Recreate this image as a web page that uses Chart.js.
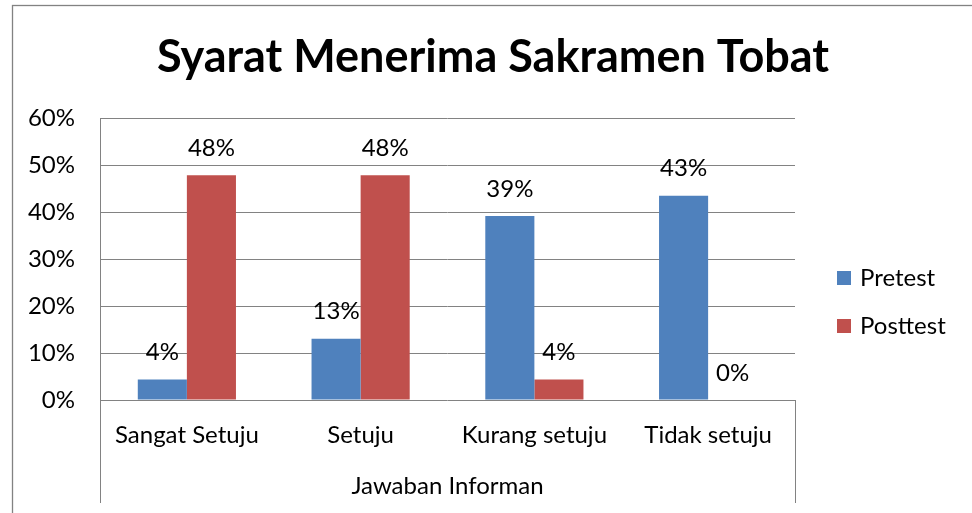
<!DOCTYPE html>
<html>
<head>
<meta charset="utf-8">
<script src="https://cdn.jsdelivr.net/npm/chart.js@4.4.0/dist/chart.umd.min.js"></script>
<style>
html, body { margin: 0; padding: 0; background: #fff; }
canvas { display: block; }
</style>
</head>
<body>
<canvas id="chart" width="972" height="513"></canvas>
<script>
const categories = ['Sangat Setuju', 'Setuju', 'Kurang setuju', 'Tidak setuju'];
const pretest = [4.35, 13.04, 39.13, 43.48];
const posttest = [47.83, 47.83, 4.35, 0];
const yTicks = [0, 10, 20, 30, 40, 50, 60];

const FONT = 'Lato, sans-serif';
const LINE = '#828282';

// angka di atas batang
const valueLabels = {
    id: 'valueLabels',
    afterDatasetsDraw(chart) {
        const ctx = chart.ctx;
        ctx.save();
        ctx.font = '24px ' + FONT;
        ctx.fillStyle = '#000';
        ctx.textAlign = 'center';
        ctx.textBaseline = 'middle';
        chart.data.datasets.forEach((ds, i) => {
            chart.getDatasetMeta(i).data.forEach((bar, j) => {
                ctx.fillText(Math.round(ds.data[j]) + '%', bar.x, bar.y - 27);
            });
        });
        ctx.restore();
    }
};

// judul ditengah seluruh bingkai, bukan cuma area plot
const centerTitle = {
    id: 'centerTitle',
    afterLayout(chart) {
        const t = chart.titleBlock;
        if (!t) return;
        t.left = 14;
        t.right = 972;
        t.width = 958;
    }
};

// bingkai luar, garis sumbu bawah, dan legenda
const frame = {
    id: 'frame',
    afterDraw(chart) {
        const ctx = chart.ctx;
        const a = chart.chartArea;
        const bottom = 503;
        ctx.save();
        ctx.strokeStyle = LINE;
        ctx.lineWidth = 1.3;
        ctx.strokeRect(12.5, 5.5, 970, 520);

        ctx.lineWidth = 1;
        ctx.beginPath();
        ctx.moveTo(Math.round(a.left) + 0.5, a.top);
        ctx.lineTo(Math.round(a.left) + 0.5, bottom);
        ctx.moveTo(Math.round(a.right) + 0.5, a.bottom);
        ctx.lineTo(Math.round(a.right) + 0.5, bottom);
        ctx.stroke();

        ctx.font = '24px ' + FONT;
        ctx.textBaseline = 'middle';
        ctx.textAlign = 'left';
        const rows = [278, 326];
        chart.data.datasets.forEach((ds, i) => {
            const y = rows[i];
            ctx.fillStyle = ds.backgroundColor;
            ctx.fillRect(837, y - 7, 14, 14);
            ctx.fillStyle = '#000';
            ctx.fillText(ds.label, 860, y);
        });
        ctx.restore();
    }
};

new Chart(document.getElementById('chart'), {
    type: 'bar',
    data: {
        labels: categories,
        datasets: [
            { label: 'Pretest', data: pretest, backgroundColor: '#4F81BD' },
            { label: 'Posttest', data: posttest, backgroundColor: '#C0504D' }
        ]
    },
    plugins: [valueLabels, centerTitle, frame],
    options: {
        responsive: false,
        animation: false,
        devicePixelRatio: 1,
        layout: { padding: { left: 0, right: 177, top: 0, bottom: 0 } },
        datasets: {
            bar: { categoryPercentage: 0.565, barPercentage: 1 }
        },
        plugins: {
            legend: { display: false },
            tooltip: { enabled: false },
            title: {
                display: true,
                text: 'Syarat Menerima Sakramen Tobat',
                color: '#000',
                font: { family: FONT, size: 45, weight: 'bold', lineHeight: 1.2 },
                padding: { top: 30, bottom: 34 }
            }
        },
        scales: {
            x: {
                grid: { display: false, drawTicks: false },
                border: { display: false },
                ticks: {
                    color: '#000',
                    font: { family: FONT, size: 24 },
                    padding: 21,
                    maxRotation: 0
                },
                title: {
                    display: true,
                    text: 'Jawaban Informan',
                    color: '#000',
                    font: { family: FONT, size: 24, lineHeight: 1.2 },
                    padding: { top: 0, bottom: 12 }
                },
                afterFit(scale) { scale.height = 113; }
            },
            y: {
                min: 0,
                max: 60,
                grid: { color: LINE, lineWidth: 1, drawTicks: false },
                border: { display: false },
                afterBuildTicks(scale) {
                    scale.ticks = yTicks.map(v => ({ value: v }));
                },
                ticks: {
                    color: '#000',
                    font: { family: FONT, size: 24 },
                    padding: 25,
                    callback: v => v + '%'
                },
                afterFit(scale) { scale.width = 100; }
            }
        }
    }
});
</script>
</body>
</html>
